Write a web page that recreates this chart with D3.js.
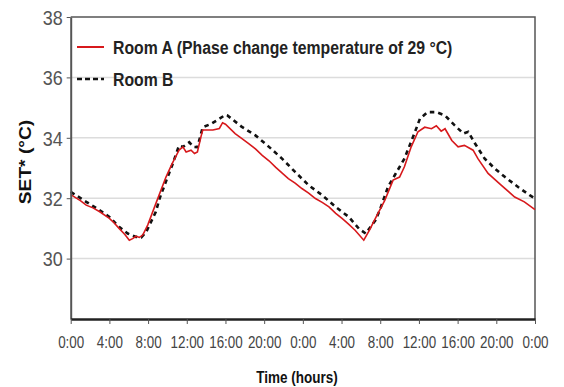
<!DOCTYPE html>
<html>
<head>
<meta charset="utf-8">
<script src="https://cdn.jsdelivr.net/npm/d3@7"></script>
<style>
  body { margin: 0; background: #fff; }
  svg { display: block; font-family: "Liberation Sans", Arial, sans-serif; }
</style>
</head>
<body>
<svg id="chart" width="564" height="387"></svg>
<script>
// hours since start, SET* values
var roomA = [
  [0, 32.12], [1, 31.92], [1.6, 31.77], [2.3, 31.68], [3, 31.55], [4, 31.33], [4.5, 31.18],
  [5, 31.0], [5.6, 30.8], [6.06, 30.61], [6.4, 30.66], [6.75, 30.74], [7.1, 30.7],
  [7.45, 30.78], [7.96, 31.11], [8.8, 31.82], [9.85, 32.7], [10.5, 33.15], [11.2, 33.59],
  [11.6, 33.7], [11.93, 33.53], [12.44, 33.59], [12.8, 33.48], [13.1, 33.53], [13.47, 34.04],
  [13.65, 34.26], [14.7, 34.26], [15.37, 34.31], [15.7, 34.5], [16, 34.45], [17, 34.14],
  [17.6, 34.0], [18.4, 33.81], [19.1, 33.63], [19.8, 33.42], [20.5, 33.24], [21.2, 33.02],
  [22.5, 32.65], [23.2, 32.5], [23.9, 32.32], [24.6, 32.17], [25.3, 31.99], [26, 31.86],
  [26.7, 31.71], [27.4, 31.5], [28.05, 31.33], [28.7, 31.15], [29.4, 30.94], [30.3, 30.61],
  [30.9, 30.95], [31.5, 31.33], [32.47, 31.93], [33.33, 32.6], [34, 32.7], [34.5, 33.04],
  [35.2, 33.7], [35.9, 34.2], [36.6, 34.35], [37.3, 34.3], [37.8, 34.4], [38.3, 34.22],
  [38.7, 34.3], [39.4, 33.91], [40.05, 33.7], [40.7, 33.75], [41.6, 33.59], [42.1, 33.31],
  [43.15, 32.82], [44.5, 32.43], [45.9, 32.04], [46.9, 31.88], [48, 31.62]
]

var roomB = [
  [0, 32.21], [1.6, 31.88], [3, 31.6], [4, 31.38], [5, 31.05], [5.9, 30.83], [6.75, 30.72],
  [7.3, 30.7], [7.8, 30.88], [8.8, 31.55], [9.2, 32.0], [9.9, 32.6], [10.5, 33.1],
  [11.2, 33.74], [11.6, 33.7], [12.26, 33.85], [12.7, 33.7], [13.1, 33.69], [13.65, 34.35],
  [14.5, 34.46], [15.37, 34.63], [16, 34.76], [16.2, 34.74], [17.7, 34.36], [19.1, 34.08],
  [20.5, 33.7], [21.85, 33.31], [23.2, 32.87], [24.6, 32.43], [26, 32.1], [27.4, 31.71],
  [28.75, 31.38], [29.8, 30.99], [30.5, 30.83], [31.5, 31.27], [31.95, 31.6], [32.8, 32.37],
  [33.5, 32.76], [34.5, 33.31], [35.6, 34.2], [36.1, 34.63], [36.9, 34.85], [37.8, 34.85],
  [38.7, 34.74], [39.7, 34.41], [40.6, 34.14], [41.1, 34.2], [41.8, 33.81], [42.8, 33.31],
  [43.85, 32.98], [44.9, 32.7], [46.25, 32.37], [47.45, 32.1], [48, 31.99]
]

var xTicks = d3.range(0, 49, 4)
var yTicks = [30, 32, 34, 36, 38]
var gridValues = [30, 32, 34, 36]
var legendLabels = ['Room A (Phase change temperature of 29 \u00B0C)', 'Room B']

var plotLeft = 70.7, plotRight = 535, plotTop = 17, plotBottom = 319
var stretch = 1.2   // the reference text is a bit taller than wide

var svg = d3.select('#chart')

var x = d3.scaleLinear().domain([0, 48]).range([plotLeft, plotRight])
var y = d3.scaleLinear().domain([28, 38]).range([plotBottom, plotTop])

// places text with the same vertical stretch as the reference
var addText = function(g, px, py, str, rot) {
  return g.append('text')
    .attr('transform', 'translate(' + px + ',' + py + ') scale(1,' + stretch + ')' + (rot ? ' rotate(' + rot + ')' : ''))
    .attr('dy', '0.35em')
    .text(str)
}

// gridlines
svg.append('g').selectAll('line')
  .data(gridValues)
  .join('line')
  .attr('x1', plotLeft).attr('x2', plotRight)
  .attr('y1', function(d) { return y(d) }).attr('y2', function(d) { return y(d) })
  .attr('stroke', '#dcdcdc')
  .attr('stroke-width', 1.5)

// frame top + right
svg.append('path')
  .attr('d', 'M' + plotLeft + ',' + plotTop + 'H' + plotRight + 'V' + plotBottom)
  .attr('fill', 'none')
  .attr('stroke', '#555')
  .attr('stroke-width', 1.5)

// lines
var line = d3.line()
  .x(function(d) { return x(d[0]) })
  .y(function(d) { return y(d[1]) })

svg.append('path')
  .datum(roomB)
  .attr('d', line)
  .attr('fill', 'none')
  .attr('stroke', '#111')
  .attr('stroke-width', 2.6)
  .attr('stroke-dasharray', '4.5,4')

svg.append('path')
  .datum(roomA)
  .attr('d', line)
  .attr('fill', 'none')
  .attr('stroke', '#d7191c')
  .attr('stroke-width', 1.6)

// y axis
var yAxis = svg.append('g')
  .attr('transform', 'translate(' + plotLeft + ',0)')
  .call(d3.axisLeft(y).tickValues(yTicks).tickSize(4).tickSizeOuter(0).tickFormat(d3.format('d')))
yAxis.select('.domain').attr('stroke', '#555').attr('stroke-width', 2)
yAxis.selectAll('.tick line').attr('stroke', '#555')
yAxis.selectAll('.tick text')
  .attr('x', null).attr('dy', '0.35em')
  .attr('transform', 'translate(-8,0) scale(1,1.15)')
  .attr('font-size', 18)
  .attr('fill', '#555')

// x axis
var xAxis = svg.append('g')
  .attr('transform', 'translate(0,' + plotBottom + ')')
  .call(d3.axisBottom(x).tickValues(xTicks).tickSize(5).tickSizeOuter(0)
    .tickFormat(function(h) { return (h % 24) + ':00' }))
xAxis.select('.domain').attr('stroke', '#222').attr('stroke-width', 2.5)
xAxis.selectAll('.tick line').attr('stroke', '#555')
xAxis.selectAll('.tick text')
  .attr('y', null).attr('dy', '0.35em')
  .attr('transform', 'translate(0,23) scale(1,' + stretch + ')')
  .attr('font-size', 13.4)
  .attr('fill', '#444')

// titles
addText(svg, 297, 377, 'Time (hours)')
  .attr('text-anchor', 'middle')
  .attr('font-size', 13.5)
  .attr('font-weight', 'bold')
  .attr('fill', '#111')

addText(svg, 25, 162, 'SET* (\u00B0C)', -90)
  .attr('text-anchor', 'middle')
  .attr('font-size', 16)
  .attr('font-weight', 'bold')
  .attr('fill', '#111')

// legend
var legend = svg.append('g')
legendLabels.forEach(function(lbl, i) {
  var ly = 47 + i * 32
  legend.append('line')
    .attr('x1', 77).attr('x2', 104)
    .attr('y1', ly).attr('y2', ly)
    .attr('stroke', i === 0 ? '#d7191c' : '#111')
    .attr('stroke-width', i === 0 ? 2 : 2.6)
    .attr('stroke-dasharray', i === 0 ? null : '5,3')
  addText(legend, 113, ly, lbl)
    .attr('font-size', 15.8)
    .attr('font-weight', 'bold')
    .attr('fill', '#222')
})
</script>
</body>
</html>
